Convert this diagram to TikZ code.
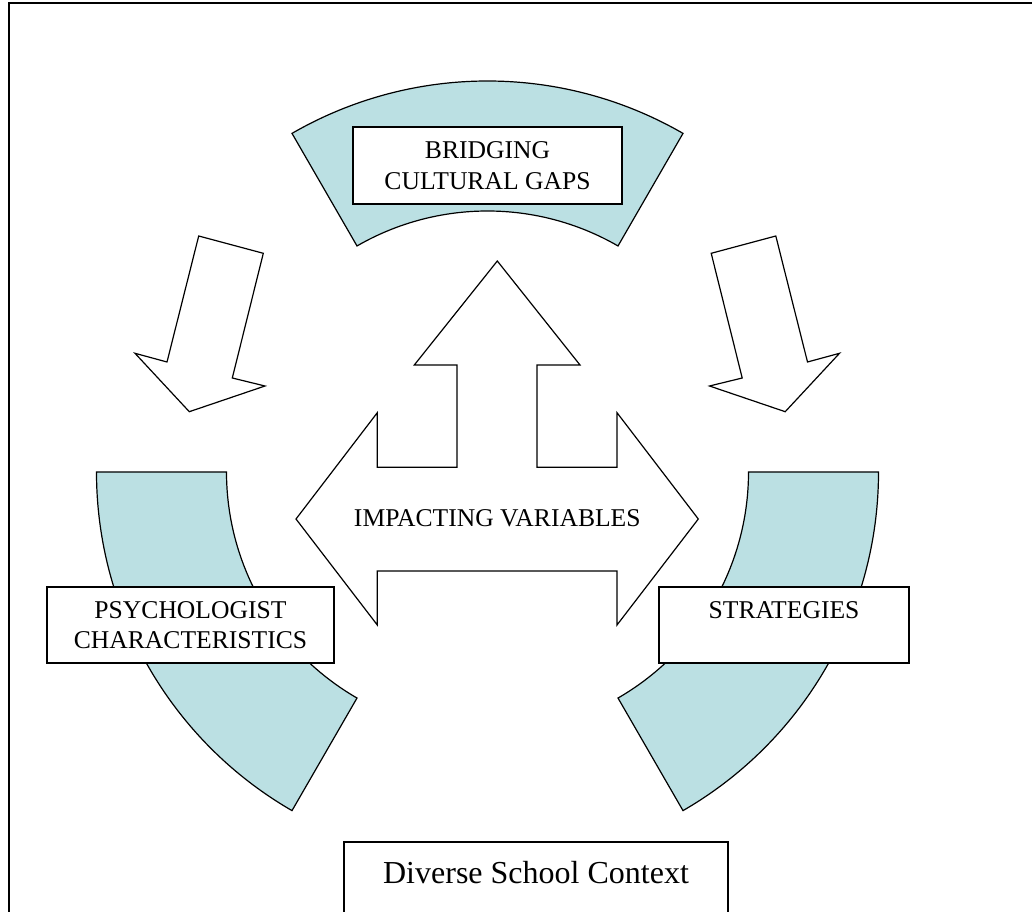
\documentclass[tikz,border=0pt]{standalone}
\usepackage{fontspec}
\setmainfont{Liberation Serif}
\usepackage{tikz}
\usetikzlibrary{calc}
\definecolor{bandblue}{RGB}{187,224,227}
\newcommand{\bandcolor}{bandblue}
\newcommand{\bandout}{391}
\newcommand{\bandin}{261}
\newcommand{\edge}{0.6pt}

\tikzset{
  band/.style={fill=\bandcolor, draw=black, line width=\edge},
  blockarrow/.style={fill=white, draw=black, line width=\edge, line join=miter},
  textbox/.style={draw=black, fill=white, line width=0.8pt, inner sep=0pt, align=center, font=\fontsize{12.8}{15.2}\selectfont},
}

\begin{document}
\begin{tikzpicture}[x=0.5pt, y=0.5pt]
\useasboundingbox (0,0) rectangle (1032,911);
\clip (0,0) rectangle (1032,911);
%frame
\draw[line width=1pt] (8.5,-20) -- (8.5,908.3) -- (1050,908.3);
%ring
\coordinate (ctr) at (487.5,439);
\filldraw[band] ($(ctr)+(60:\bandout)$) arc[start angle=60, end angle=120, radius=\bandout] -- ($(ctr)+(120:\bandin)$) arc[start angle=120, end angle=60, radius=\bandin] -- cycle;
\filldraw[band] ($(ctr)+(180:\bandout)$) arc[start angle=180, end angle=240, radius=\bandout] -- ($(ctr)+(240:\bandin)$) arc[start angle=240, end angle=180, radius=\bandin] -- cycle;
\filldraw[band] ($(ctr)+(300:\bandout)$) arc[start angle=300, end angle=360, radius=\bandout] -- ($(ctr)+(360:\bandin)$) arc[start angle=360, end angle=300, radius=\bandin] -- cycle;
%down arrows
\filldraw[blockarrow] (198.7,675) -- (263.3,657.7) -- (232.3,533) -- (265,525) -- (189.3,499.3) -- (135,557.7) -- (167,549) -- cycle;
\filldraw[blockarrow] (775.8,675) -- (711.2,657.7) -- (742.2,533) -- (709.5,525) -- (785.2,499.3) -- (839.5,557.7) -- (807.5,549) -- cycle;
%three way arrow
\filldraw[blockarrow] (497.3,650) -- (580,546) -- (537,546) -- (537,443.7) -- (617,443.7) -- (617,498.3) -- (698.3,392) -- (617,286) -- (617,340) -- (377.3,340) -- (377.3,286) -- (296,392) -- (377.3,498.3) -- (377.3,443.7) -- (457,443.7) -- (457,546) -- (414.3,546) -- cycle;
%labels
\node[textbox, minimum width=134.5pt, minimum height=38.5pt] (bridging) at (487.5,745.5) {BRIDGING\\CULTURAL GAPS};
\node[textbox, minimum width=143.5pt, minimum height=38pt] (psych) at (190.5,286) {PSYCHOLOGIST\\CHARACTERISTICS};
\node[textbox, minimum width=125pt, minimum height=38pt] (strategies) at (784,286) {STRATEGIES\\\mbox{}};
\node[font=\fontsize{12.8}{15.2}\selectfont] (impacting) at (497.3,393) {IMPACTING VARIABLES};
\node[textbox, font=\fontsize{16}{19}\selectfont, anchor=base, minimum width=192pt, inner ysep=9.5pt, text height=11pt, text depth=30pt] (context) at (536,28) {Diverse School Context};
\end{tikzpicture}
\end{document}
